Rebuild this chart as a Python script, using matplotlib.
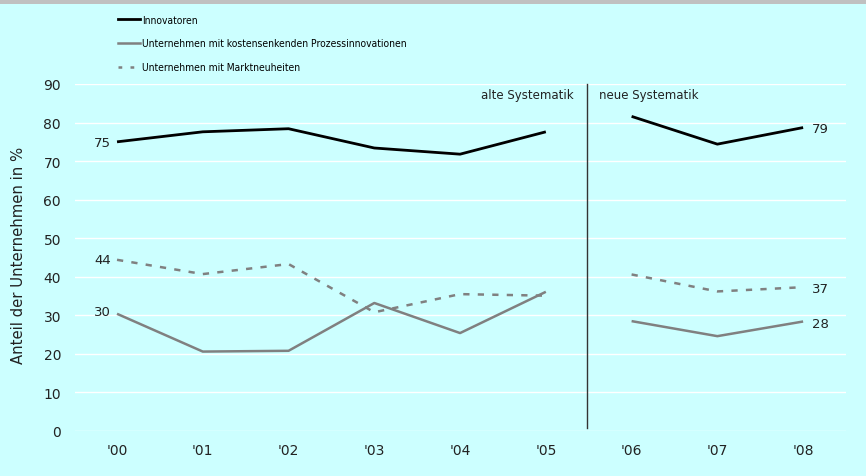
import matplotlib
matplotlib.use("Agg")
import matplotlib.pyplot as plt
from matplotlib.patches import Rectangle
from matplotlib.lines import Line2D
import numpy as np

years = ["'00", "'01", "'02", "'03", "'04", "'05", "'06", "'07", "'08"]
innovatoren = [75.0, 77.6, 78.4, 73.4, 71.8, 77.6, 81.6, 74.4, 78.7]
prozess = [30.4, 20.6, 20.8, 33.2, 25.4, 36.1, 28.5, 24.6, 28.4]
markt = [44.4, 40.7, 43.3, 30.8, 35.5, 35.1, 40.6, 36.2, 37.3]
yticks = [0, 10, 20, 30, 40, 50, 60, 70, 80, 90]

bg = "#CCFFFF"
fig = plt.figure(figsize=(8.66, 4.77), dpi=100, facecolor=bg)
fig.add_artist(Rectangle((0, 1 - 5/477), 1, 5/477, transform=fig.transFigure,
                         facecolor="#C0C0C0", edgecolor="none"))

ax = fig.add_axes([75/866, 1 - 432/477, (846-75)/866, (432-85)/477])
ax.set_facecolor(bg)
ax.set_xlim(-0.49, 8.5)
ax.set_ylim(0, 90)
for s in ax.spines.values():
    s.set_visible(False)
ax.set_yticks(yticks)
ax.set_yticklabels([str(v) for v in yticks], fontsize=10, color="#222222")
ax.set_xticks(range(len(years)))
ax.set_xticklabels(years, fontsize=10, color="#222222")
ax.tick_params(length=0)
ax.tick_params(axis="y", pad=10)
ax.tick_params(axis="x", pad=9)
ax.grid(axis="y", color="white", lw=1)
ax.set_axisbelow(True)
ax.set_ylabel("Anteil der Unternehmen in %", fontsize=10.7, color="#222222")
ax.yaxis.set_label_coords(-0.064, 0.509)

x = np.arange(len(years))
old = slice(0, 6)
new = slice(6, 9)
for sl in (old, new):
    ax.plot(x[sl], innovatoren[sl], color="black", lw=2.0, clip_on=False, solid_capstyle="butt")
    ax.plot(x[sl], prozess[sl], color="#808080", lw=1.8, clip_on=False, solid_capstyle="butt")
    ax.plot(x[sl], markt[sl], color="#808080", lw=1.8, ls=(0, (2.5, 3.3)), clip_on=False)

ax.plot([5.48, 5.48], [0.8, 90], color="#333333", lw=1, clip_on=False)
ax.text(5.32, 87.3, "alte Systematik", fontsize=8.5, ha="right", va="center", color="#222222")
ax.text(5.62, 87.3, "neue Systematik", fontsize=8.5, ha="left", va="center", color="#222222")

lbl = dict(fontsize=9.5, color="#222222", va="center")
ax.text(-0.07, innovatoren[0] - 0.3, f"{innovatoren[0]:.0f}", ha="right", **lbl)
ax.text(-0.07, markt[0], f"{markt[0]:.0f}", ha="right", **lbl)
ax.text(-0.07, prozess[0] + 0.6, f"{prozess[0]:.0f}", ha="right", **lbl)
ax.text(8.10, innovatoren[8] - 0.3, f"{innovatoren[8]:.0f}", ha="left", **lbl)
ax.text(8.10, markt[8] - 0.3, f"{markt[8]:.0f}", ha="left", **lbl)
ax.text(8.10, prozess[8] - 0.5, f"{prozess[8]:.0f}", ha="left", **lbl)

# legend
handles = [Line2D([], [], color="black", lw=2.0),
           Line2D([], [], color="#808080", lw=1.8),
           Line2D([], [], color="#808080", lw=1.8, ls=(0, (1.5, 3.3)))]
labels = ["Innovatoren", "Unternehmen mit kostensenkenden Prozessinnovationen",
          "Unternehmen mit Marktneuheiten"]
leg = fig.legend(handles, labels, loc="upper left", bbox_to_anchor=(118/866, 1 - 15.5/477),
                 frameon=False, borderpad=0, borderaxespad=0,
                 handlelength=2.1, handletextpad=0.25, labelspacing=1.35,
                 prop={"family": ["DejaVu Sans"], "stretch": "condensed", "size": 7.4})

fig.savefig("out.png", dpi=100, facecolor=bg)
